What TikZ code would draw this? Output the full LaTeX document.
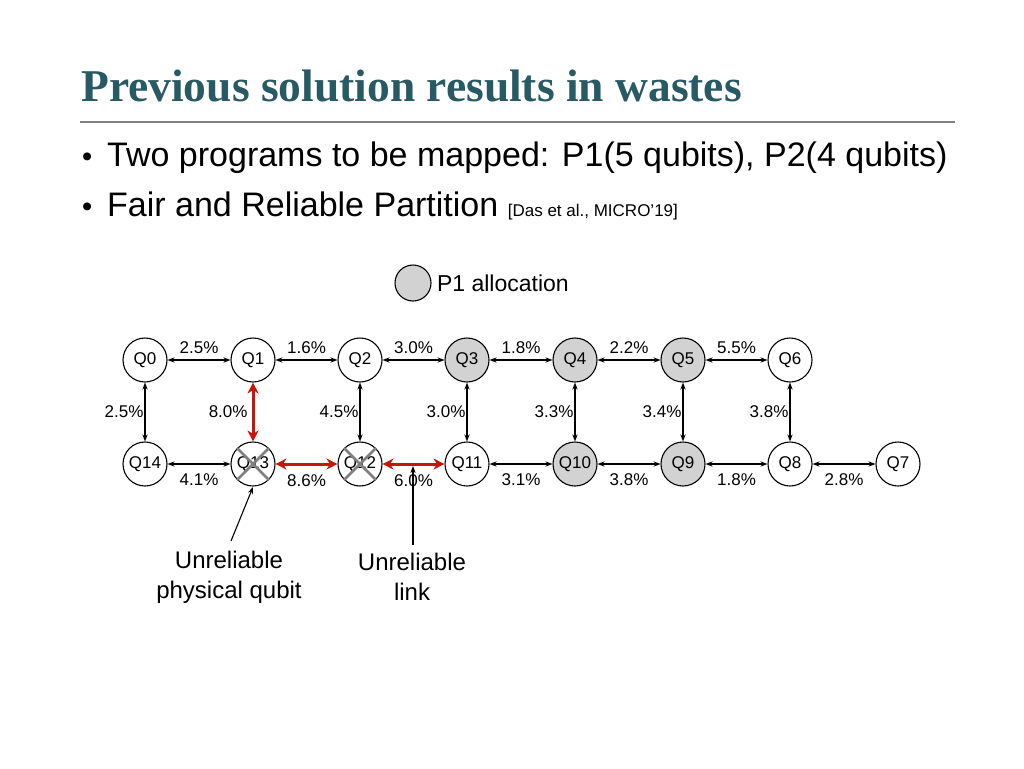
\documentclass[tikz,border=0pt]{standalone}
\usepackage{fontspec}
\setmainfont{Liberation Sans}
\newfontfamily\titlefont{Liberation Serif}
\usetikzlibrary{arrows.meta,positioning}
\definecolor{titleteal}{RGB}{40,90,100}
\definecolor{linkred}{RGB}{200,20,10}
\definecolor{pgray}{RGB}{210,210,210}
\begin{document}
\begin{tikzpicture}[x=1pt,y=-1pt,
	qubit/.style={circle,draw,line width=1.1pt,minimum size=44pt,inner sep=0pt,font=\fontsize{17}{17}\selectfont},
	pone/.style={qubit,fill=pgray},
	link/.style={{Stealth[length=7pt]}-{Stealth[length=7pt]},line width=1.1pt},
	badlink/.style={{Stealth[length=11pt,width=11pt]}-{Stealth[length=11pt,width=11pt]},line width=3pt,draw=linkred},
	rate/.style={font=\fontsize{17}{17}\selectfont,inner sep=1pt},
	note/.style={font=\fontsize{24}{30}\selectfont,align=center}
]
\useasboundingbox (0,0) rectangle (1024,768);
% title and bullets
\node[anchor=base west,inner sep=0pt,text=titleteal,font=\titlefont\bfseries\fontsize{45.5}{45}\selectfont] (title) at (81,101) {Previous solution results in wastes};
\draw[gray,line width=2pt] (80,122) -- (955,122);
\node[anchor=base west,inner sep=0pt,font=\fontsize{29}{29}\selectfont] (d1) at (82,166) {\textbullet};
\node[anchor=base west,inner sep=0pt,font=\fontsize{34}{34}\selectfont] (b1) at (107,166) {Two programs to be mapped: P1(5 qubits), P2(4 qubits)};
\node[anchor=base west,inner sep=0pt,font=\fontsize{29}{29}\selectfont] (d2) at (82,216) {\textbullet};
\node[anchor=base west,inner sep=0pt,font=\fontsize{34}{34}\selectfont] (b2) at (107,216) {Fair and Reliable Partition {\fontsize{17}{17}\selectfont [Das et al., MICRO’19]}};
% legend
\node[circle,draw,line width=1.1pt,fill=pgray,minimum size=36pt,inner sep=0pt] (leg) at (413,283) {};
\node[right=2pt of leg,font=\fontsize{23}{23}\selectfont] (legtext) {P1 allocation};
% qubits
\node[qubit] (Q0) at (145,360) {Q0};
\node[qubit] (Q1) at (253,360) {Q1};
\node[qubit] (Q2) at (360,360) {Q2};
\node[pone] (Q3) at (467,360) {Q3};
\node[pone] (Q4) at (575,360) {Q4};
\node[pone] (Q5) at (683,360) {Q5};
\node[qubit] (Q6) at (790,360) {Q6};
\node[qubit] (Q14) at (145,464) {Q14};
\node[qubit] (Q13) at (253,464) {Q13};
\node[qubit] (Q12) at (360,464) {Q12};
\node[qubit] (Q11) at (467,464) {Q11};
\node[pone] (Q10) at (575,464) {Q10};
\node[pone] (Q9) at (683,464) {Q9};
\node[qubit] (Q8) at (790,464) {Q8};
\node[qubit] (Q7) at (898,464) {Q7};
% crosses
\foreach \q in {Q13,Q12}{
  \draw[gray,line width=2.5pt] (\q.north west) -- (\q.south east);
  \draw[gray,line width=2.5pt] (\q.north east) -- (\q.south west);
}
% top row links
\draw[link] (Q0) -- node[rate,above=5pt]{2.5\%} (Q1);
\draw[link] (Q1) -- node[rate,above=5pt]{1.6\%} (Q2);
\draw[link] (Q2) -- node[rate,above=5pt]{3.0\%} (Q3);
\draw[link] (Q3) -- node[rate,above=5pt]{1.8\%} (Q4);
\draw[link] (Q4) -- node[rate,above=5pt]{2.2\%} (Q5);
\draw[link] (Q5) -- node[rate,above=5pt]{5.5\%} (Q6);
% vertical links
\draw[link] (Q0) -- node[rate,left]{2.5\%} (Q14);
\draw[badlink] (Q1) -- node[rate,left=3pt,text=black]{8.0\%} (Q13);
\draw[link] (Q2) -- node[rate,left]{4.5\%} (Q12);
\draw[link] (Q3) -- node[rate,left]{3.0\%} (Q11);
\draw[link] (Q4) -- node[rate,left]{3.3\%} (Q10);
\draw[link] (Q5) -- node[rate,left]{3.4\%} (Q9);
\draw[link] (Q6) -- node[rate,left]{3.8\%} (Q8);
% bottom row links
\draw[link] (Q14) -- node[rate,below=8pt]{4.1\%} (Q13);
\draw[badlink] (Q13) -- node[rate,below=8pt,text=black]{8.6\%} (Q12);
\draw[badlink] (Q12) -- node[rate,below=8pt,text=black] (l6){6.0\%} (Q11);
\draw[link] (Q11) -- node[rate,below=8pt]{3.1\%} (Q10);
\draw[link] (Q10) -- node[rate,below=8pt]{3.8\%} (Q9);
\draw[link] (Q9) -- node[rate,below=8pt]{1.8\%} (Q8);
\draw[link] (Q8) -- node[rate,below=8pt]{2.8\%} (Q7);
% annotations
\node[note] (n1) at (229,577) {Unreliable\\physical qubit};
\node[note] (n2) at (412,577) {Unreliable\\link};
\coordinate (c1) at (253,487);
\coordinate (c2) at (413,466);
\draw[-{Stealth[length=7pt]},line width=1.1pt] (231,541) -- (c1);
\draw[-{Stealth[length=7pt]},line width=1.1pt] (413,545) -- (c2);
\end{tikzpicture}
\end{document}
